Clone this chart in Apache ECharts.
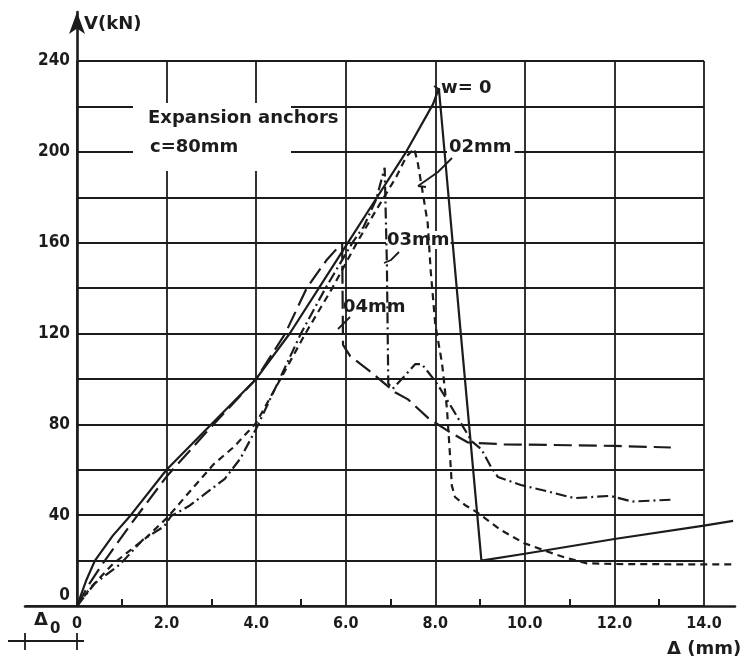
<!DOCTYPE html>
<html>
<head>
<meta charset="utf-8">
<script src="https://cdn.jsdelivr.net/npm/echarts@6/dist/echarts.min.js"></script>
<style>
html, body { margin: 0; background: #fff; }
#grafico { width: 740px; height: 659px; }
</style>
</head>
<body>
<div id="grafico"></div>
<script>
// load V (kN) against displacement (mm)
var curvaW0 = [[-1.15,0],[0,0],[0.2,11],[0.4,20],[0.8,31],[1.2,40],[2.0,60],[3.0,80],[4.0,100],[4.75,120],[5.4,140],[6.05,160],[6.7,180],[7.35,200],[7.95,221],[8.08,228],[8.56,122],[9.03,20],[10.0,23],[12.0,29.5],[14.0,35.4],[14.65,37.5]];
var curva02 = [[0,0],[0.3,8],[0.8,18.5],[1.54,30],[2.02,39],[2.5,50],[3.06,62.6],[3.5,70],[4.0,80.6],[4.6,102],[5.1,120],[5.7,140],[6.25,160],[6.7,175],[7.13,189],[7.35,197.8],[7.53,201.4],[7.61,195],[7.72,182],[7.83,168.7],[7.9,147],[8.0,124],[8.15,107],[8.26,87],[8.32,69],[8.37,53],[8.44,48],[8.66,44.5],[8.95,41],[9.46,33.5],[9.98,27.7],[10.5,24],[10.86,21.6],[11.37,18.8],[12.0,18.5],[14.0,18.3],[14.65,18.3]];
var curva03 = [[0,0],[0.4,10],[0.97,18.5],[1.46,29],[1.94,35],[2.1,39.6],[2.5,44],[2.9,50],[3.3,56],[3.65,65],[4.0,78],[4.5,99],[5.0,120],[5.55,140],[6.15,160],[6.4,167],[6.68,179],[6.87,193],[6.92,150],[6.95,98],[7.05,95.7],[7.3,101],[7.55,106.5],[7.7,106.5],[7.98,99.5],[8.07,97],[8.44,85],[8.81,72.6],[9.03,69],[9.25,61],[9.4,56.8],[9.91,53.3],[10.5,50.5],[11.1,47.5],[11.9,48.5],[12.4,46],[13.25,46.8]];
var curva04 = [[0,0],[0.25,9],[0.55,18],[1.2,36],[2.0,57],[3.0,79],[4.0,100],[4.65,120],[5.13,140],[5.56,152],[5.92,160],[5.94,115],[6.1,110],[6.5,104],[6.83,98.6],[7.11,94],[7.39,91],[7.85,82.6],[8.29,77],[8.73,72],[9.54,71.2],[11.0,70.8],[12.0,70.5],[13.26,69.8]];
var etiquetasY = [0, 40, 80, 120, 160, 200, 240];

var tinta = "#1c1c1c";
var fuente = "\"DejaVu Sans\"";
var fuenteEje = "\"DejaVu Sans Condensed\", \"DejaVu Sans\"";

// plot box in pixels (0..14 mm, 0..240 kN)
var izq = 77, der = 704, arriba = 61, abajo = 606;
var mmPorPx = 14 / (der - izq);
var kNPorPx = 240 / (abajo - arriba);

function serie(datos, tipo){
    // curves live on the wider grid (1), whose scale matches grid 0
    return {
        type: "line",
        xAxisIndex: 1,
        yAxisIndex: 1,
        data: datos,
        symbol: "none",
        silent: true,
        lineStyle: { color: tinta, width: 2.2, type: tipo }
    };
}

function texto(t, x, y, extra){
    var st = { text: t, font: "bold 18px " + fuente, fill: tinta };
    for (var k in extra) { st[k] = extra[k]; }
    return { type: "text", x: x, y: y, z: 1, style: st };
}

function trazo(puntos){
    return { type: "polyline", z: 3, shape: { points: puntos }, style: { stroke: tinta, lineWidth: 1.8, fill: null } };
}

var dom = document.getElementById("grafico");
var myChart = echarts.init(dom);
var option = {
    animation: false,
    backgroundColor: "#fff",
    grid: [
        { left: izq, right: 740 - der, top: arriba, bottom: 659 - abajo },
        { left: 25, right: 5, top: 12, bottom: 659 - abajo }
    ],
    xAxis: [
        {
            type: "value", gridIndex: 0, min: 0, max: 14, interval: 2,
            axisLine: { show: false },
            axisTick: { show: false, inside: true },
            minorTick: { show: true, splitNumber: 2, length: 7, lineStyle: { color: tinta, width: 2 } },
            splitLine: { show: true, lineStyle: { color: tinta, width: 1.8 } },
            axisLabel: {
                margin: 10, color: tinta, fontSize: 16, fontWeight: "bold", fontFamily: fuenteEje,
                formatter: function(v){ return v === 0 ? "0" : v.toFixed(1); }
            }
        },
        {
            type: "value", gridIndex: 1,
            min: -(izq - 25) * mmPorPx, max: 14 + (735 - der) * mmPorPx,
            axisLine: { show: true, onZero: true, lineStyle: { color: tinta, width: 2.6 } },
            axisTick: { show: false }, axisLabel: { show: false }, splitLine: { show: false }
        }
    ],
    yAxis: [
        {
            type: "value", gridIndex: 0, min: 0, max: 240, interval: 20,
            axisLine: { show: false },
            axisTick: { show: false },
            splitLine: { show: true, lineStyle: { color: tinta, width: 1.8 } },
            axisLabel: {
                margin: 7, color: tinta, fontSize: 17, fontWeight: "bold", fontFamily: fuenteEje,
                formatter: function(v){
                    if (etiquetasY.indexOf(v) < 0) return "";
                    return v === 0 ? "{cero|0}" : String(v);
                },
                rich: { cero: { fontSize: 17, fontWeight: "bold", fontFamily: fuenteEje, color: tinta, padding: [0, 0, 20, 0] } }
            }
        },
        {
            type: "value", gridIndex: 1, min: 0, max: (abajo - 12) * kNPorPx,
            axisLine: { show: true, onZero: true, symbol: ["none", "arrow"], symbolSize: [12, 22], lineStyle: { color: tinta, width: 2.6 } },
            axisTick: { show: false }, axisLabel: { show: false }, splitLine: { show: false }
        }
    ],
    graphic: { elements: [
        texto("V(kN)", 84, 15),
        { type: "rect", z: 1, shape: { x: 133, y: 103, width: 158, height: 68 }, style: { fill: "#fff" } },
        texto("Expansion anchors", 148, 109),
        texto("c=80mm", 150, 138),
        texto("w= 0", 441, 79),
        trazo([[434, 86], [440, 90]]),
        texto("02mm", 447, 138, { backgroundColor: "#fff", padding: [0, 3, 0, 2] }),
        trazo([[452, 158], [438, 172], [418, 186]]),
        trazo([[418, 186], [426, 187]]),
        texto("03mm", 386, 231, { backgroundColor: "#fff", padding: [0, 1, 0, 1] }),
        trazo([[399, 252], [391, 260], [384, 263]]),
        texto("04mm", 343, 298),
        trazo([[350, 317], [343, 324], [338, 329]]),
        texto("\u0394 (mm)", 667, 640),
        texto("\u0394", 34, 611),
        { type: "text", x: 50, y: 622, z: 1, style: { text: "0", font: "bold 15px " + fuente, fill: tinta } },
        trazo([[8, 641], [84, 641]]),
        trazo([[25, 633], [25, 650]]),
        trazo([[77, 633], [77, 650]])
    ] },
    series: [
        serie(curvaW0, "solid"),
        serie(curva02, [7, 5]),
        serie(curva03, [11, 4, 2, 4]),
        serie(curva04, [18, 7])
    ]
};
myChart.setOption(option, true);
</script>
</body>
</html>
